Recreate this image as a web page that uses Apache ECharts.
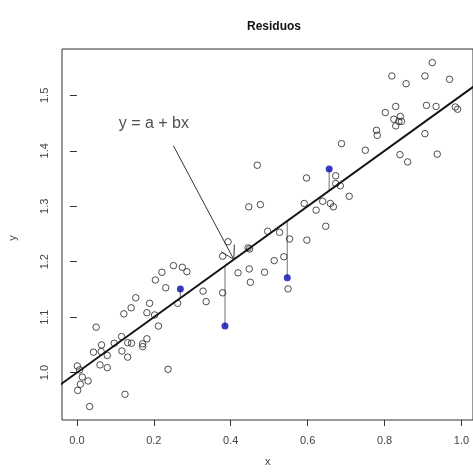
<!DOCTYPE html>
<html>
<head>
<meta charset="utf-8">
<script src="https://cdn.jsdelivr.net/npm/echarts@6/dist/echarts.min.js"></script>
<style>
html, body { margin: 0; padding: 0; background: #fff; }
#main { width: 473px; height: 473px; }
</style>
</head>
<body>
<div id="main"></div>
<script>
// open circles
const ptX = [0.001, 0.007, 0.014, 0.029, 0.009, 0.002, 0.033, 0.050, 0.043, 0.064,
  0.063, 0.079, 0.060, 0.079, 0.097, 0.116, 0.117, 0.132, 0.132, 0.142,
  0.122, 0.141, 0.153, 0.125, 0.171, 0.171, 0.182, 0.189, 0.182, 0.202,
  0.212, 0.204, 0.221, 0.231, 0.237, 0.251, 0.274, 0.286, 0.262, 0.328,
  0.336, 0.379, 0.379, 0.393, 0.419, 0.448, 0.451, 0.445, 0.449, 0.477,
  0.447, 0.469, 0.496, 0.527, 0.553, 0.598, 0.513, 0.538, 0.488, 0.549,
  0.591, 0.597, 0.639, 0.622, 0.647, 0.673, 0.673, 0.685, 0.708, 0.659,
  0.667, 0.688, 0.750, 0.779, 0.781, 0.802, 0.829, 0.824, 0.841, 0.837,
  0.829, 0.844, 0.840, 0.860, 0.819, 0.856, 0.905, 0.924, 0.969, 0.909,
  0.934, 0.905, 0.937, 0.984, 0.990];
const ptY = [1.012, 1.005, 0.992, 0.985, 0.979, 0.968, 0.939, 1.082, 1.037, 1.050,
  1.038, 1.031, 1.014, 1.009, 1.053, 1.065, 1.039, 1.028, 1.054, 1.053,
  1.106, 1.117, 1.135, 0.961, 1.052, 1.047, 1.061, 1.125, 1.108, 1.104,
  1.084, 1.167, 1.181, 1.153, 1.006, 1.193, 1.190, 1.182, 1.125, 1.147,
  1.128, 1.144, 1.210, 1.236, 1.180, 1.187, 1.163, 1.225, 1.223, 1.303,
  1.299, 1.374, 1.255, 1.253, 1.241, 1.239, 1.202, 1.209, 1.181, 1.151,
  1.305, 1.351, 1.309, 1.293, 1.264, 1.355, 1.341, 1.337, 1.318, 1.305,
  1.299, 1.413, 1.401, 1.437, 1.428, 1.469, 1.480, 1.457, 1.462, 1.453,
  1.445, 1.453, 1.393, 1.380, 1.535, 1.521, 1.535, 1.559, 1.529, 1.482,
  1.480, 1.431, 1.394, 1.479, 1.475];

// highlighted points and the fitted value at their x
const blueX = [0.269, 0.385, 0.547, 0.656];
const blueY = [1.151, 1.084, 1.171, 1.367];
const blueFit = [1.134, 1.192, 1.273, 1.328];

// fitted line ends
const fitX = [-0.05, 1.05];
const fitY = [0.975, 1.525];

const xTicks = [0, 0.2, 0.4, 0.6, 0.8, 1.0];
const yTicks = [1.0, 1.1, 1.2, 1.3, 1.4, 1.5];

const eqText = 'y = a + bx';
const eqPos = [0.2, 1.449];
const arrowFrom = [0.251, 1.409];
const arrowTo = [0.408, 1.204];

const chart = echarts.init(document.getElementById('main'), null, { renderer: 'canvas' });
const font = 'Liberation Sans, Arial, sans-serif';
const ink = '#333';

const option = {
  animation: false,
  backgroundColor: '#fff',
  title: {
    text: 'Residuos',
    left: 269,
    top: 16,
    textAlign: 'center',
    textStyle: { fontFamily: font, fontSize: 12, fontWeight: 'bold', color: '#111' }
  },
  grid: {
    left: 62, top: 49, right: -3, bottom: 53,
    show: true, borderColor: ink, borderWidth: 1, backgroundColor: 'transparent'
  },
  xAxis: {
    type: 'value', min: -0.0388, max: 1.030,
    axisLine: { show: false },
    splitLine: { show: false },
    axisTick: { show: true, length: 6, customValues: xTicks, lineStyle: { color: ink } },
    axisLabel: {
      customValues: xTicks, margin: 15, fontFamily: font, fontSize: 11, color: '#444',
      formatter: v => v.toFixed(1)
    }
  },
  yAxis: {
    type: 'value', min: 0.9146, max: 1.5836,
    axisLine: { show: false },
    splitLine: { show: false },
    axisTick: { show: true, length: 7, customValues: yTicks, lineStyle: { color: ink } },
    axisLabel: {
      customValues: yTicks, margin: 12, rotate: 90, fontFamily: font, fontSize: 11, color: '#444',
      formatter: v => v.toFixed(1)
    }
  },
  graphic: [
    { type: 'text', left: 265, top: 456, style: { text: 'x', font: '11px ' + font, fill: '#444' } },
    { type: 'text', x: 13, y: 238, rotation: Math.PI / 2, style: { text: 'y', font: '11px ' + font, fill: '#444', textAlign: 'center', textVerticalAlign: 'middle' } }
  ],
  series: [
    {
      type: 'scatter',
      data: ptX.map((x, i) => [x, ptY[i]]),
      symbol: 'circle', symbolSize: 6.5,
      itemStyle: { color: 'rgba(0,0,0,0)', borderColor: '#222', borderWidth: 1 },
      z: 3
    },
    {
      type: 'custom',
      data: blueX.map((x, i) => [x, blueY[i], blueFit[i]]),
      renderItem: (params, api) => {
        const a = api.coord([api.value(0), api.value(1)]);
        const b = api.coord([api.value(0), api.value(2)]);
        return { type: 'line', shape: { x1: a[0], y1: a[1], x2: b[0], y2: b[1] }, style: { stroke: '#888', lineWidth: 1.2 } };
      },
      z: 2
    },
    {
      type: 'line',
      data: fitX.map((x, i) => [x, fitY[i]]),
      symbol: 'none',
      lineStyle: { color: '#111', width: 2 },
      z: 4
    },
    {
      type: 'scatter',
      data: blueX.map((x, i) => [x, blueY[i]]),
      symbol: 'circle', symbolSize: 7,
      itemStyle: { color: '#0a0ab0' },
      z: 5
    },
    {
      type: 'custom',
      data: [[arrowFrom[0], arrowFrom[1], arrowTo[0], arrowTo[1]]],
      renderItem: (params, api) => {
        const p0 = api.coord([api.value(0), api.value(1)]);
        const p1 = api.coord([api.value(2), api.value(3)]);
        const ang = Math.atan2(p1[1] - p0[1], p1[0] - p0[0]);
        const L = 15, w = Math.PI / 6;
        const b1 = [p1[0] - L * Math.cos(ang - w), p1[1] - L * Math.sin(ang - w)];
        const b2 = [p1[0] - L * Math.cos(ang + w), p1[1] - L * Math.sin(ang + w)];
        return {
          type: 'group',
          children: [
            { type: 'line', shape: { x1: p0[0], y1: p0[1], x2: p1[0], y2: p1[1] }, style: { stroke: '#333', lineWidth: 1 } },
            { type: 'polyline', shape: { points: [b1, p1, b2] }, style: { stroke: '#333', fill: null, lineWidth: 1 } }
          ]
        };
      },
      z: 6
    },
    {
      type: 'scatter',
      data: [eqPos],
      symbolSize: 0,
      label: {
        show: true, position: 'inside', formatter: eqText,
        fontFamily: font, fontSize: 16, color: '#222'
      },
      z: 6
    }
  ]
};

chart.setOption(option);
</script>
</body>
</html>
